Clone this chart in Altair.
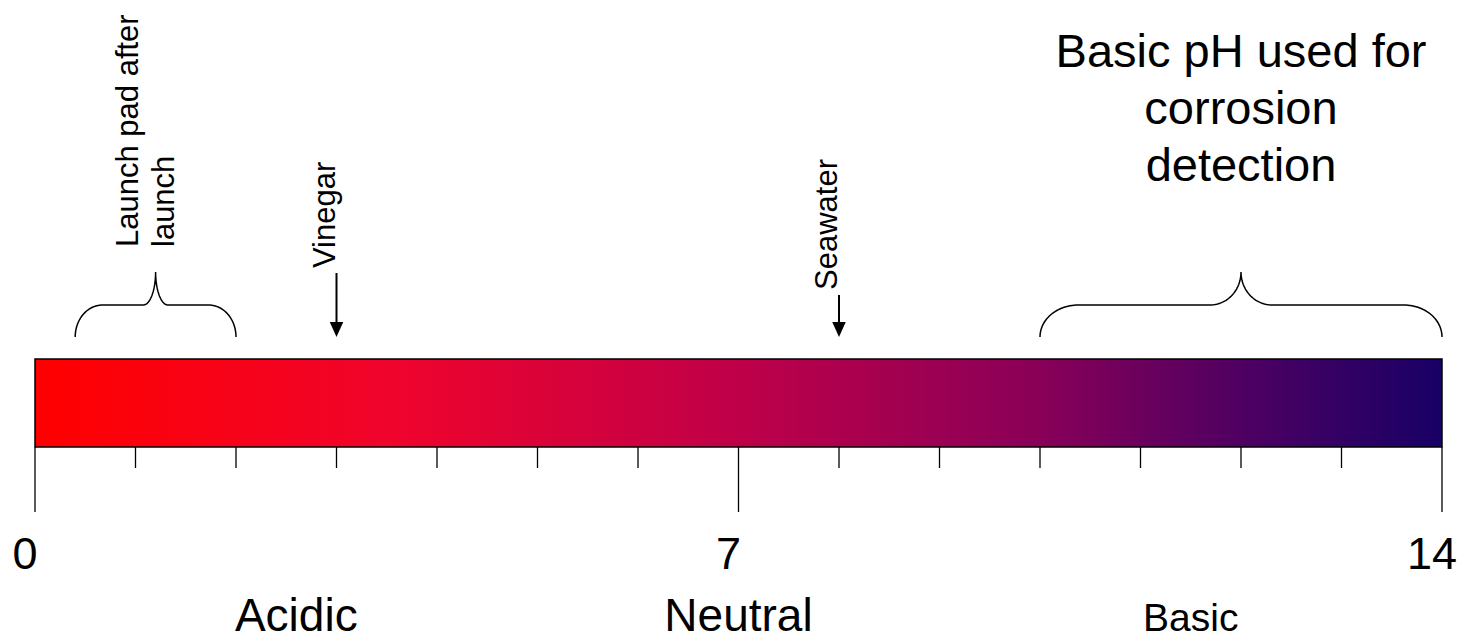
import altair as alt
import pandas as pd
import numpy as np

# ---------------- data ----------------
tick_values = list(range(0, 15))
major_ticks = [0, 7, 14]
major_labels = ["0", "7", "14"]
region_names = ["Acidic", "Neutral", "Basic"]
region_centers = [2.6, 7.0, 11.5]
gradient_ph = [0, 3.5, 7, 10, 12, 14]
gradient_colors = ["#FF0000", "#F0042C", "#BF0049", "#890058", "#4F0062", "#180066"]
arrow_names = ["Vinegar", "Seawater"]
arrow_ph = [3.0, 8.0]
brace_names = ["Launch pad after\nlaunch", "Basic pH used for\ncorrosion\ndetection"]
brace_start = [0.4, 10.0]
brace_end = [2.0, 14.0]

# ---------------- layout (page pixels) ----------------
FONT = "Liberation Sans"
BAR_TOP, BAR_BOT = 359, 447
MINOR_BOT, MAJOR_BOT = 468, 512
NUM_BASE, REGION_BASE = 569, 631
BRACE_BOT, BRACE_MID, BRACE_TOP = 337, 305, 272
ARROW_TIP = 337
ARROW_TOPS = [273, 295]
ARROW_LABEL_GAP = 5

X = lambda f="ph": alt.X(f"{f}:Q", scale=alt.Scale(domain=[0, 14], nice=False, zero=False), axis=None)
Y = lambda f="y": alt.Y(f"{f}:Q", scale=alt.Scale(domain=[8, 633], reverse=True, nice=False, zero=False), axis=None)

# gradient bar
bar_df = pd.DataFrame({"ph": [tick_values[0]], "ph2": [tick_values[-1]], "y": [BAR_TOP], "y2": [BAR_BOT]})
grad = alt.Gradient(
    gradient="linear", x1=0, x2=1, y1=0, y2=0,
    stops=[alt.GradientStop(color=c, offset=p / 14) for p, c in zip(gradient_ph, gradient_colors)],
)
bar = alt.Chart(bar_df).mark_rect(fill=grad, stroke="black", strokeWidth=1.5).encode(
    x=X(), x2="ph2:Q", y=Y(), y2="y2:Q"
)

# ticks
tick_df = pd.DataFrame({
    "ph": tick_values,
    "y": [BAR_BOT] * len(tick_values),
    "y2": [MAJOR_BOT if t in major_ticks else MINOR_BOT for t in tick_values],
})
ticks = alt.Chart(tick_df).mark_rule(color="black", strokeWidth=1.3).encode(x=X(), y=Y(), y2="y2:Q")

# numbers
num_df = pd.DataFrame({"ph": major_ticks, "label": major_labels, "y": [NUM_BASE] * 3})
nums = alt.Chart(num_df).mark_text(font=FONT, fontSize=45, align="center", baseline="alphabetic",
                                   dx=-10, color="black").encode(x=X(), y=Y(), text="label:N")

# region labels
reg_df = pd.DataFrame({"ph": region_centers, "label": region_names, "y": [REGION_BASE] * 3})
regs = alt.Chart(reg_df).mark_text(font=FONT, align="center", baseline="alphabetic",
                                   color="black").encode(
    x=X(), y=Y(), text="label:N",
    size=alt.condition(alt.datum.label == "Basic", alt.value(39), alt.value(46)),
)

# arrows
arr_df = pd.DataFrame({"ph": arrow_ph, "label": arrow_names, "y": ARROW_TOPS,
                       "y2": [ARROW_TIP - 13] * 2, "ytext": [t - ARROW_LABEL_GAP for t in ARROW_TOPS],
                       "yhead": [ARROW_TIP - 7.5] * 2})
shafts = alt.Chart(arr_df).mark_rule(color="black", strokeWidth=2).encode(x=X(), y=Y(), y2="y2:Q")
heads = alt.Chart(arr_df).mark_point(shape="M-0.9,-1L0.9,-1L0,1Z", size=225, filled=True,
                                     color="black", opacity=1, strokeWidth=0).encode(x=X(), y=Y("yhead"))
arr_text = alt.Chart(arr_df).mark_text(font=FONT, fontSize=31, angle=270, align="left",
                                       baseline="alphabetic", dy=-2, color="black").encode(
    x=X(), y=Y("ytext"), text="label:N")

# braces
rows = []
for name, x0, x1 in zip(brace_names, brace_start, brace_end):
    w = x1 - x0
    xc = (x0 + x1) / 2
    ro = 0.2 + 0.045 * w
    ri = 0.077 * w
    t = np.linspace(0, np.pi / 2, 30)
    lo = [(x0 + ro - ro * np.cos(a), BRACE_BOT - (BRACE_BOT - BRACE_MID) * np.sin(a)) for a in t]
    li = [(xc - ri + ri * np.sin(a), BRACE_TOP + (BRACE_MID - BRACE_TOP) * np.cos(a)) for a in t]
    ri_ = [(2 * xc - px, py) for px, py in reversed(li)]
    ro_ = [(2 * xc - px, py) for px, py in reversed(lo)]
    for i, (px, py) in enumerate(lo + li + ri_ + ro_):
        rows.append({"brace": name, "i": i, "ph": px, "y": py})
brace_df = pd.DataFrame(rows)
braces = alt.Chart(brace_df).mark_line(color="black", strokeWidth=1.5).encode(
    x=X(), y=Y(), detail="brace:N", order="i:Q")

# brace labels
launch_df = pd.DataFrame({"ph": [(brace_start[0] + brace_end[0]) / 2], "label": [brace_names[0]],
                          "y": [BRACE_TOP - 25]})
launch_text = alt.Chart(launch_df).mark_text(font=FONT, fontSize=31, angle=270, align="left",
                                             baseline="alphabetic", dy=-18, lineBreak="\n",
                                             lineHeight=36, color="black").encode(
    x=X(), y=Y(), text="label:N")

basic_df = pd.DataFrame({"ph": [(brace_start[1] + brace_end[1]) / 2], "label": [brace_names[1]],
                         "y": [67]})
basic_text = alt.Chart(basic_df).mark_text(font=FONT, fontSize=47, align="center",
                                           baseline="alphabetic", lineBreak="\n",
                                           lineHeight=57, color="black").encode(
    x=X(), y=Y(), text="label:N")

chart = alt.layer(bar, ticks, nums, regs, shafts, heads, arr_text, braces, launch_text, basic_text).properties(
    width=1407, height=625,
    padding={"left": 27, "top": 0, "right": 16, "bottom": 8},
    autosize="none",
).configure_view(stroke=None)

chart.save("out.html", embed_options={"renderer": "svg", "actions": False})
